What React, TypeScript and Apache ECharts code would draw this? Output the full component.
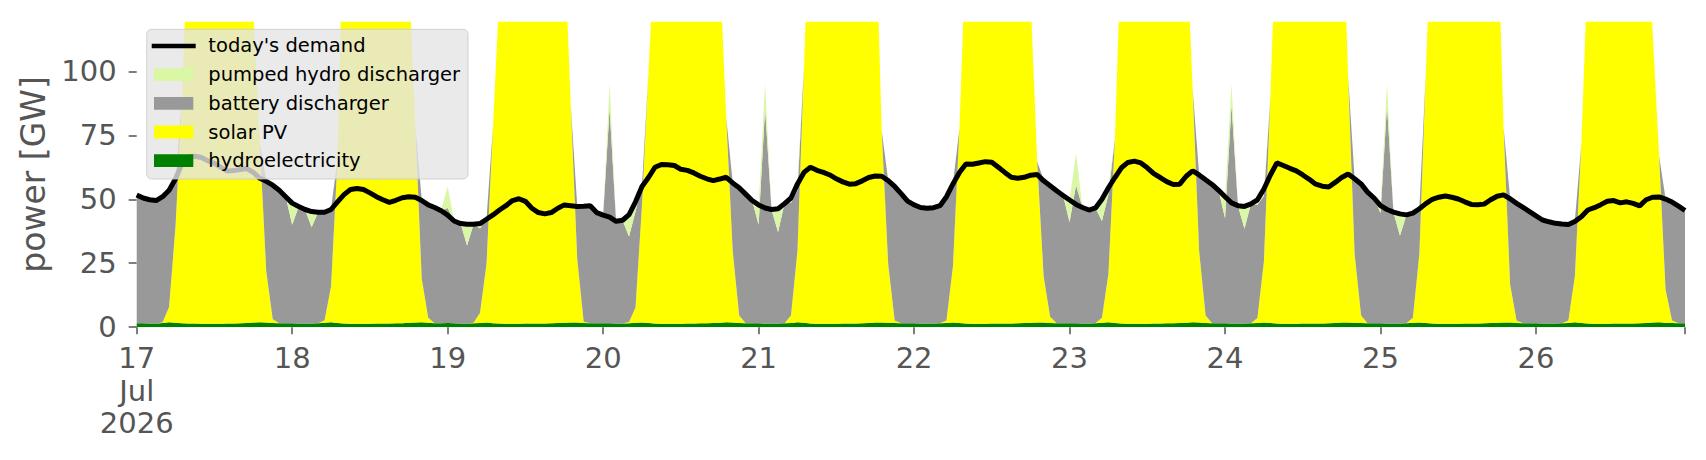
import React, { useEffect, useRef } from 'react';
import * as echarts from 'echarts';

// hourly values, 17 Jul 2026 00:00 .. 26 Jul 2026 23:00 (one row per day)
const demand = [
  51.7, 50.5, 49.8, 49.5, 51, 53.5, 58, 64, 66.6, 66.8, 66.3, 65, 64, 62.5, 61, 61.2, 61.6, 62, 60.5, 58.2, 57, 55.5, 53.5, 51,
  48.5, 47.2, 46, 45.2, 44.9, 44.9, 46, 49, 51.8, 53.8, 54.2, 53.8, 52.5, 51, 49.8, 48.8, 49.6, 50.6, 51, 50.8, 49.5, 47.8, 46.8, 45.5,
  43.8, 41.5, 40.5, 40.2, 40.2, 40.5, 42.2, 43.9, 45.8, 47.5, 49.5, 50.2, 49.2, 46.5, 44.8, 44.3, 44.8, 46.5, 47.8, 47.5, 47.2, 47.3, 47.5, 44.8,
  43.8, 43, 41.4, 41.8, 44, 49, 55, 58.5, 62.5, 63.6, 63.5, 63.2, 61.7, 61.3, 60.3, 59, 58, 57.3, 57.9, 58.6, 56.4, 54.5, 52, 49.5,
  47.8, 46.6, 46, 46.3, 48.3, 50.5, 56, 60.5, 62.5, 61.3, 60.5, 59.5, 58, 56.8, 55.9, 56.1, 57.2, 58.5, 59.1, 59, 57.3, 55, 52.2, 49.3,
  47.8, 46.8, 46.5, 46.7, 47.5, 51, 56, 60.5, 63.8, 63.7, 64.2, 64.7, 64.5, 62.5, 60.5, 58.6, 58.2, 58.6, 59.4, 59.7, 57.2, 55.3, 53.3, 51.5,
  49.7, 48, 46.8, 45.8, 46.6, 50, 54.5, 58.5, 62.3, 64.4, 64.9, 64.2, 62.3, 60, 58.5, 56.9, 55.8, 55.9, 59, 61.1, 59.5, 57.6, 55.8, 53.5,
  51, 48.6, 47.5, 47.2, 48.2, 49.8, 54, 59.5, 64.2, 63.2, 62.1, 61.1, 59.5, 57.8, 55.9, 55.1, 54.8, 56.6, 58.5, 59.9, 58, 56, 52.8, 50.5,
  47.5, 46, 45, 44.3, 43.9, 44.6, 46.3, 48.3, 50, 50.8, 51.3, 50.8, 50.1, 49, 48, 47.9, 48.1, 49.8, 51.2, 51.7, 50.2, 48.4, 46.8, 45.2,
  43.5, 41.9, 41.2, 40.6, 40.3, 40.1, 41.3, 43.2, 45.8, 46.7, 47.9, 49.2, 49.5, 48.6, 49, 48.4, 47.4, 49.8, 50.8, 50.9, 50.1, 48.9, 47.3, 45.6,
];

const hydro = [
  1.5, 1.5, 1.4, 1.4, 1.6, 1.9, 1.7, 1.5, 1.4, 1.4, 1.3, 1.3, 1.3, 1.3, 1.4, 1.4, 1.5, 1.6, 1.8, 1.9, 1.8, 1.6, 1.5, 1.5,
  1.5, 1.4, 1.4, 1.4, 1.5, 1.7, 1.9, 1.6, 1.4, 1.3, 1.3, 1.3, 1.3, 1.4, 1.4, 1.4, 1.5, 1.5, 1.7, 1.8, 1.9, 1.7, 1.5, 1.5,
  1.6, 1.5, 1.4, 1.4, 1.5, 1.6, 1.8, 1.5, 1.4, 1.3, 1.3, 1.3, 1.4, 1.4, 1.4, 1.4, 1.5, 1.6, 1.7, 1.8, 1.8, 1.6, 1.5, 1.5,
  1.5, 1.5, 1.4, 1.4, 1.5, 1.7, 1.8, 1.6, 1.4, 1.3, 1.3, 1.3, 1.3, 1.4, 1.4, 1.5, 1.5, 1.6, 1.7, 1.9, 1.8, 1.6, 1.5, 1.5,
  1.5, 1.4, 1.4, 1.4, 1.5, 1.6, 1.9, 1.7, 1.4, 1.3, 1.3, 1.3, 1.3, 1.4, 1.4, 1.4, 1.5, 1.6, 1.8, 1.8, 1.7, 1.6, 1.5, 1.5,
  1.5, 1.4, 1.4, 1.4, 1.5, 1.6, 1.8, 1.6, 1.4, 1.3, 1.3, 1.3, 1.4, 1.4, 1.4, 1.4, 1.5, 1.6, 1.7, 1.8, 1.8, 1.6, 1.5, 1.5,
  1.5, 1.5, 1.4, 1.4, 1.5, 1.7, 1.9, 1.6, 1.4, 1.3, 1.3, 1.3, 1.3, 1.4, 1.4, 1.5, 1.5, 1.6, 1.7, 1.9, 1.8, 1.6, 1.5, 1.5,
  1.5, 1.4, 1.4, 1.4, 1.5, 1.6, 1.8, 1.6, 1.4, 1.3, 1.3, 1.3, 1.4, 1.4, 1.4, 1.4, 1.5, 1.6, 1.8, 1.8, 1.7, 1.6, 1.5, 1.5,
  1.5, 1.4, 1.4, 1.4, 1.5, 1.7, 1.8, 1.6, 1.4, 1.3, 1.3, 1.3, 1.3, 1.4, 1.4, 1.4, 1.5, 1.6, 1.7, 1.8, 1.8, 1.6, 1.5, 1.5,
  1.5, 1.4, 1.4, 1.4, 1.5, 1.6, 1.9, 1.6, 1.4, 1.3, 1.3, 1.3, 1.4, 1.4, 1.4, 1.4, 1.5, 1.6, 1.8, 1.9, 1.7, 1.6, 1.5, 1.5,
];

const solar = [
  0, 0, 0, 0, 0.3, 6, 38, 88, 160, 185, 200, 210, 212, 208, 198, 182, 160, 150, 122, 70, 20, 1.5, 0, 0,
  0, 0, 0, 0, 0, 1, 14, 64, 175, 195, 205, 212, 215, 210, 200, 188, 170, 155, 138, 77, 17, 2, 0, 0,
  0, 0, 0, 0, 0.2, 4, 23, 77, 130, 160, 180, 190, 195, 192, 185, 175, 165, 158, 150, 85, 25, 0.5, 0, 0,
  0, 0, 0, 0, 0.5, 6, 46, 98, 150, 178, 195, 205, 208, 205, 198, 185, 168, 152, 139, 80, 28, 3, 0, 0,
  0, 0, 0, 0, 0, 3, 28, 100, 170, 192, 205, 212, 214, 210, 202, 190, 178, 170, 164, 75, 23, 1, 0, 0,
  0, 0, 0, 0, 0, 1, 22, 76, 148, 172, 188, 198, 200, 197, 190, 178, 160, 142, 126, 63, 18, 2.5, 0, 0,
  0, 0, 0, 0, 0, 2, 19, 72, 151, 176, 192, 200, 204, 200, 194, 184, 172, 162, 154, 91, 28, 3, 0, 0,
  0, 0, 0, 0, 0, 2, 24, 88, 166, 188, 200, 208, 210, 207, 200, 192, 185, 178, 174, 96, 27, 3, 0, 0,
  0, 0, 0, 0, 0, 2, 27, 98, 169, 190, 202, 209, 211, 207, 200, 190, 178, 168, 163, 76, 15, 1, 0, 0,
  0, 0, 0, 0, 0, 1, 18, 70, 141, 165, 180, 190, 193, 190, 184, 178, 172, 168, 114, 65, 13, 1, 0, 0,
];

const battery = [
  50.2, 49.0, 48.3, 48.0, 49.2, 46.0, 18.5, 0, 0, 0, 0, 0, 0, 0, 0, 0, 0, 0, 0, 0, 35.5, 52.5, 52.0, 49.5,
  38.5, 45.7, 44.5, 37.7, 43.4, 42.4, 30.5, 0, 0, 0, 0, 0, 0, 0, 0, 0, 0, 0, 0, 0, 31.0, 44.3, 45.3, 44.0,
  45.0, 40.0, 39.0, 30.5, 38.5, 33.0, 17.7, 0, 0, 0, 0, 0, 0, 0, 0, 0, 0, 0, 0, 0, 20.7, 45.3, 46.0, 43.3,
  42.3, 84.0, 39.9, 40.3, 33.4, 37.5, 7.5, 0, 0, 0, 0, 0, 0, 0, 0, 0, 0, 0, 0, 0, 26.9, 50.0, 50.5, 48.0,
  38.5, 84.0, 44.5, 35.8, 46.8, 44.0, 23.5, 0, 0, 0, 0, 0, 0, 0, 0, 0, 0, 0, 0, 0, 32.8, 52.5, 50.7, 47.8,
  46.3, 45.3, 45.0, 45.2, 46.0, 48.5, 32.5, 0, 0, 0, 0, 0, 0, 0, 0, 0, 0, 0, 0, 0, 37.7, 51.3, 51.8, 50.0,
  39.5, 54.0, 45.3, 44.3, 45.1, 37.8, 31.0, 0, 0, 0, 0, 0, 0, 0, 0, 0, 0, 0, 0, 0, 30.0, 53.1, 54.3, 52.0,
  41.1, 85.3, 46.0, 37.1, 46.7, 44.3, 25.5, 0, 0, 0, 0, 0, 0, 0, 0, 0, 0, 0, 0, 0, 29.5, 51.5, 51.3, 49.0,
  43.0, 85.3, 43.5, 34.3, 42.4, 41.1, 17.8, 0, 0, 0, 0, 0, 0, 0, 0, 0, 0, 0, 0, 0, 33.7, 45.9, 45.3, 43.7,
  42.0, 40.4, 39.7, 39.1, 38.8, 37.6, 21.8, 0, 0, 0, 0, 0, 0, 0, 0, 0, 0, 0, 0, 0, 35.6, 46.4, 45.8, 44.1,
];

const pumpedHydro = [
  0, 0, 0, 0, 0, 0, 0, 0, 0, 0, 0, 0, 0, 0, 0, 0, 0, 0, 0, 0, 0, 0, 0, 0,
  8.5, 0, 0, 6, 0, 0, 0, 0, 0, 0, 0, 0, 0, 0, 0, 0, 0, 0, 0, 0, 0, 0, 0, 0,
  8.5, 0, 0, 8.2, 0, 2, 0, 0, 0, 0, 0, 0, 0, 0, 0, 0, 0, 0, 0, 0, 0, 0, 0, 0,
  0, 9.7, 0, 0, 8.6, 4, 0, 0, 0, 0, 0, 0, 0, 0, 0, 0, 0, 0, 0, 0, 0, 0, 0, 0,
  7.8, 10, 0, 9, 0, 2, 3, 0, 0, 0, 0, 0, 0, 0, 0, 0, 0, 0, 0, 0, 0, 0, 0, 0,
  0, 0, 0, 0, 0, 0, 0, 0, 0, 0, 0, 0, 0, 0, 0, 0, 0, 0, 0, 0, 0, 0, 0, 0,
  8.7, 12.5, 0, 0, 0, 8.7, 3, 0, 0, 0, 0, 0, 0, 0, 0, 0, 0, 0, 0, 0, 0, 0, 0, 0,
  8.4, 8.5, 0, 8.6, 0, 2, 3, 0, 0, 0, 0, 0, 0, 0, 0, 0, 0, 0, 0, 0, 0, 0, 0, 0,
  3, 8.5, 0, 8.5, 0, 0, 0, 0, 0, 0, 0, 0, 0, 0, 0, 0, 0, 0, 0, 0, 0, 0, 0, 0,
  0, 0, 0, 0, 0, 0, 0, 0, 0, 0, 0, 0, 0, 0, 0, 0, 0, 0, 0, 0, 0, 0, 0, 0,
];

const hoursPerDay = 24;
const tickLabels = ['17\nJul\n2026', '18', '19', '20', '21', '22', '23', '24', '25', '26'];
const yTicks = [0, 25, 50, 75, 100];

const stackNames = ['hydroelectricity', 'solar PV', 'battery discharger', 'pumped hydro discharger'];
const stackColors = ['#008000', '#ffff00', '#999999', '#daf7a6'];

const legendNames = ["today's demand", 'pumped hydro discharger', 'battery discharger', 'solar PV', 'hydroelectricity'];
const legendColors = ['#000000', '#daf7a6', '#999999', '#ffff00', '#008000'];

const FONT = "'DejaVu Sans', sans-serif";

export default function App() {
  const ref = useRef<HTMLDivElement>(null);

  useEffect(() => {
    if (!ref.current) return;
    const chart = echarts.init(ref.current, null, { renderer: 'svg' });
    const hourCats = demand.map((_, i) => String(i));
    const lastIdx = hourCats.length - 1;
    const stackData = [hydro, solar, battery, pumpedHydro];

    const stackSeries = stackNames.map((name, k) => ({
      type: 'line',
      name,
      stack: 'gen',
      data: stackData[k],
      symbol: 'none',
      showSymbol: false,
      lineStyle: { width: 0, color: stackColors[k] },
      itemStyle: { color: stackColors[k] },
      areaStyle: { color: stackColors[k], opacity: 1 },
      silent: true,
      z: 2,
    }));

    const legendTop = 45.9;
    const rowGap = 28.7;
    const legendEls: any[] = [
      {
        type: 'rect',
        z: 100,
        shape: { x: 146.7, y: 29.3, width: 321.3, height: 149.7, r: 5 },
        style: { fill: 'rgba(229,229,229,0.8)', stroke: 'rgba(200,200,200,0.8)', lineWidth: 1 },
      },
    ];
    legendNames.forEach((name, i) => {
      const cy = legendTop + i * rowGap;
      if (i === 0) {
        legendEls.push({
          type: 'line',
          z: 101,
          shape: { x1: 151.7, y1: cy, x2: 195.7, y2: cy },
          style: { stroke: legendColors[i], lineWidth: 4.5 },
        });
      } else {
        legendEls.push({
          type: 'rect',
          z: 101,
          shape: { x: 154, y: cy - 6.4, width: 39.3, height: 12.8 },
          style: { fill: legendColors[i] },
        });
      }
      legendEls.push({
        type: 'text',
        z: 101,
        x: 208.3,
        y: cy,
        style: {
          text: name,
          fontSize: 19.5,
          fontFamily: FONT,
          fill: '#000000',
          textAlign: 'left',
          textVerticalAlign: 'middle',
          align: 'left',
          verticalAlign: 'middle',
        },
      });
    });

    chart.setOption({
      animation: false,
      backgroundColor: '#ffffff',
      textStyle: { fontFamily: FONT },
      grid: { left: 136.7, right: 21, top: 21.7, bottom: 132.8, containLabel: false },
      xAxis: {
        type: 'category',
        data: hourCats,
        boundaryGap: false,
        axisLine: { show: false },
        splitLine: { show: false },
        axisTick: {
          show: true,
          interval: (index: number) => index % hoursPerDay === 0 || index === lastIdx,
          length: 7,
          lineStyle: { color: '#555555', width: 1.5 },
        },
        axisLabel: {
          interval: (index: number) => index % hoursPerDay === 0,
          formatter: (_v: string, index: number) => tickLabels[Math.round(index / hoursPerDay)] ?? '',
          fontSize: 29,
          lineHeight: 32.5,
          color: '#555555',
          margin: 15,
          fontFamily: FONT,
        },
      },
      yAxis: {
        type: 'value',
        min: 0,
        max: 119.4,
        name: 'power [GW]',
        nameLocation: 'middle',
        nameGap: 84,
        nameTextStyle: { fontSize: 33, color: '#555555', fontFamily: FONT },
        axisLine: { show: false },
        splitLine: { show: false },
        axisTick: {
          show: true,
          customValues: yTicks,
          length: 8,
          lineStyle: { color: '#555555', width: 1.5 },
        },
        axisLabel: {
          customValues: yTicks,
          fontSize: 29,
          color: '#555555',
          margin: 20,
          fontFamily: FONT,
        },
      },
      series: [
        ...stackSeries,
        {
          type: 'line',
          name: "today's demand",
          data: demand,
          symbol: 'none',
          showSymbol: false,
          lineStyle: { color: '#000000', width: 5 },
          itemStyle: { color: '#000000' },
          silent: true,
          z: 5,
        },
      ],
      graphic: legendEls,
    });

    return () => chart.dispose();
  }, []);

  return (
    <div
      ref={ref}
      style={{ position: 'fixed', left: 0, top: 0, width: 1706, height: 460, background: '#ffffff' }}
    />
  );
}
